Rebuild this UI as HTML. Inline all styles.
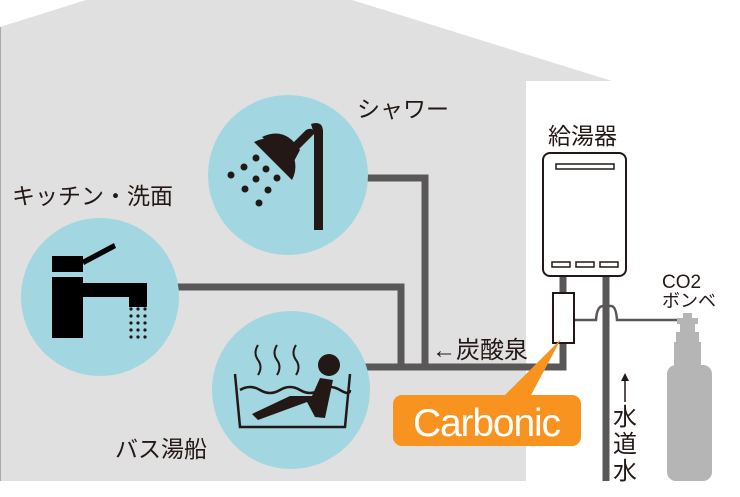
<!DOCTYPE html>
<html><head><meta charset="utf-8"><style>
html,body{margin:0;padding:0;background:#fff;}
svg{display:block}
text{font-family:"Liberation Sans","Noto Sans CJK JP",sans-serif;fill:#231815}
</style></head><body>
<svg width="740" height="497" viewBox="0 0 740 497" xmlns="http://www.w3.org/2000/svg">
<rect width="740" height="497" fill="#fff"/>
<polygon points="0,27 86,0 352,0 612,81 526,81 526,481 0,481" fill="#e0e0e0"/>
<line x1="0.5" y1="27" x2="0.5" y2="481" stroke="#aaa" stroke-width="1"/>
<g fill="none" stroke="#595757" stroke-width="7">
<polyline points="360,178 425,178 425,367"/>
<polyline points="170,287 401,287 401,367"/>
<polyline points="365,367 563,367 563,276"/>
<line x1="606" y1="276" x2="606" y2="481"/>
</g>
<circle cx="288" cy="175" r="80" fill="#a2d6e0"/>
<circle cx="100" cy="297" r="79" fill="#a2d6e0"/>
<circle cx="291" cy="390" r="79" fill="#a2d6e0"/>
<g fill="#231815">
<path d="M314,230 L314,135 Q314,126 306,130 L284,152 L290,158 L316,132 Z" />
<rect x="314" y="130" width="9" height="100"/>
<path d="M311,124 Q323,120 323,132 L314,134 Z"/>
<path d="M254,142 A28,28 0 0 1 292,180 Z"/>
<path d="M262,137 Q285,126 300,150 L292,165 Z"/>
<circle cx="231" cy="175" r="3.5"/><circle cx="244" cy="167" r="3.5"/><circle cx="256" cy="158" r="3.5"/>
<circle cx="266" cy="169" r="3.5"/><circle cx="256" cy="179" r="3.5"/><circle cx="277" cy="178" r="3.5"/>
<circle cx="245" cy="189" r="3.5"/><circle cx="268" cy="190" r="3.5"/><circle cx="259" cy="203" r="3.5"/>
</g>
<g fill="#000">
<rect x="52" y="256" width="31" height="16"/>
<polygon points="82,260 114,243 116,248 84,265"/>
<path d="M52,277 H83 V283 H147 V307 H129 V297 H83 V338 H52 Z"/>
<g fill="#231815">
<circle cx="131" cy="309" r="1.6"/><circle cx="138" cy="309" r="1.6"/><circle cx="145" cy="309" r="1.6"/>
<circle cx="131" cy="316" r="1.6"/><circle cx="138" cy="316" r="1.6"/><circle cx="145" cy="316" r="1.6"/>
<circle cx="131" cy="323" r="1.6"/><circle cx="138" cy="323" r="1.6"/><circle cx="145" cy="323" r="1.6"/>
<circle cx="131" cy="330" r="1.6"/><circle cx="138" cy="330" r="1.6"/><circle cx="145" cy="330" r="1.6"/>
<circle cx="131" cy="337" r="1.6"/><circle cx="138" cy="337" r="1.6"/><circle cx="145" cy="337" r="1.6"/>
</g>
</g>
<g fill="none" stroke="#231815" stroke-width="2.5">
<polyline points="235,374 240,427 345,427 350,374"/>
<path d="M240,390 q10,-6 20,0 t20,0 t20,0 t20,0 t20,0 t10,0"/>
<path d="M258,345 q-5,8 0,15 t0,15" stroke-width="2"/>
<path d="M277,345 q-5,8 0,15 t0,15" stroke-width="2"/>
<path d="M296,345 q-5,8 0,15 t0,15" stroke-width="2"/>
</g>
<g fill="#231815">
<circle cx="329" cy="365" r="11"/>
<path d="M320,378 L333,380 L325,418 L315,417 L307,402 L258,420 L252,414 L290,396 L312,396 Z"/>
</g>
<rect x="543" y="153" width="83" height="123" rx="7" fill="#fff" stroke="#231815" stroke-width="2"/>
<rect x="556" y="164" width="58" height="5" fill="none" stroke="#231815" stroke-width="1.5"/>
<rect x="552" y="262" width="18" height="5" fill="none" stroke="#231815" stroke-width="1.5"/>
<rect x="576" y="262" width="18" height="5" fill="none" stroke="#231815" stroke-width="1.5"/>
<rect x="600" y="262" width="18" height="5" fill="none" stroke="#231815" stroke-width="1.5"/>
<path d="M574,320 H596 Q597,306 603,306 H611 Q616,306 617,320 H680" fill="none" stroke="#595757" stroke-width="2.5"/>
<rect x="553" y="293" width="21" height="50" fill="#fff" stroke="#231815" stroke-width="2"/>
<g fill="#b5b5b5">
<rect x="683" y="313" width="9" height="6"/>
<rect x="677" y="318" width="21" height="6"/>
<rect x="680" y="324" width="15" height="8"/>
<rect x="676" y="332" width="23" height="10"/>
<rect x="674" y="342" width="27" height="25"/>
<rect x="667" y="365" width="45" height="116" rx="9"/>
</g>
<polygon points="503,397 530,397 561,339" fill="#f7931e"/>
<rect x="393" y="395" width="188" height="51" rx="9" fill="#f7931e"/>
<text x="487" y="436" font-size="39" text-anchor="middle" textLength="148" style="fill:#fff">Carbonic</text>
<text x="357" y="117" font-size="23">シャワー</text>
<text x="12" y="204" font-size="23">キッチン・洗面</text>
<text x="115" y="457" font-size="23">バス湯船</text>
<text x="548" y="144" font-size="23">給湯器</text>
<text x="432" y="358" font-size="24">←炭酸泉</text>
<text x="662" y="288" font-size="19">CO2</text>
<text x="662" y="307" font-size="18">ボンベ</text>
<line x1="625" y1="378" x2="625" y2="402" stroke="#231815" stroke-width="1.5"/>
<polygon points="625,373 621,381 629,381" fill="#231815"/>
<text x="613" y="425" font-size="24">水</text>
<text x="613" y="452" font-size="24">道</text>
<text x="613" y="479" font-size="24">水</text>
</svg>
</body></html>
